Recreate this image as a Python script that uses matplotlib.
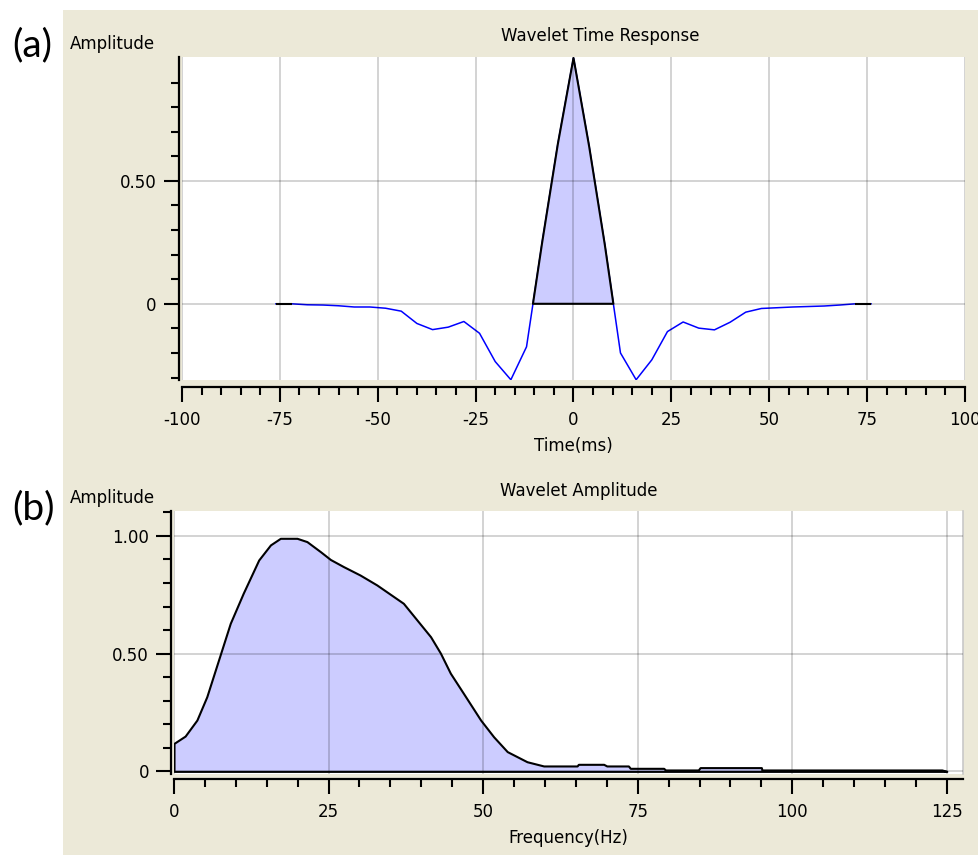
import matplotlib
matplotlib.use("Agg")
import matplotlib.pyplot as plt
from matplotlib.patches import Rectangle
from matplotlib.ticker import MultipleLocator, FixedLocator, FixedFormatter
import numpy as np

plt.rcParams['font.family'] = 'DejaVu Sans'
plt.rcParams['font.size'] = 12
plt.rcParams['axes.unicode_minus'] = False

# Wavelet time response (4 ms sampling)
time_ms = [-76, -72, -68, -64, -60, -56, -52, -48, -44, -40, -36, -32, -28, -24,
           -20, -16, -12, -8, -4, 0, 4, 8, 12, 16, 20, 24, 28, 32, 36, 40, 44,
           48, 52, 56, 60, 64, 68, 72, 76]
amp_time = [0.0, 0.0, -0.004, -0.005, -0.008, -0.013, -0.013, -0.018, -0.03,
            -0.08, -0.105, -0.095, -0.072, -0.12, -0.235, -0.309, -0.175, 0.25,
            0.65, 1.0, 0.64, 0.24, -0.2, -0.309, -0.228, -0.113, -0.074, -0.099,
            -0.106, -0.075, -0.034, -0.019, -0.016, -0.013, -0.011, -0.009,
            -0.005, 0.0, 0.0]

# Wavelet amplitude spectrum
freq_hz = [0, 1.8, 3.7, 5.3, 7.2, 9.1, 11.2, 13.7, 15.6, 17.2, 19.9, 21.5, 23.7,
           25.3, 27.4, 30.1, 32.8, 37.1, 39.3, 41.5, 43.1, 44.7, 46.8, 49.6,
           51.7, 53.9, 57.1, 59.8, 65.2, 65.4, 69.5, 70.0, 73.5, 73.8, 79.2,
           79.5, 84.8, 85.1, 95.0, 95.1, 124.2, 125.0]
amp_freq = [0.119, 0.15, 0.218, 0.317, 0.473, 0.629, 0.757, 0.898, 0.962, 0.99,
            0.99, 0.976, 0.933, 0.90, 0.87, 0.834, 0.792, 0.714, 0.643, 0.572,
            0.502, 0.417, 0.332, 0.218, 0.147, 0.084, 0.041, 0.023, 0.023, 0.03,
            0.03, 0.023, 0.023, 0.013, 0.013, 0.006, 0.006, 0.016, 0.016, 0.006,
            0.006, 0.0]

W, H = 979, 855
fig = plt.figure(figsize=(W / 100, H / 100), dpi=100)
fig.patch.set_facecolor('white')
fig.add_artist(Rectangle((63 / W, 0), 1, 1 - 10 / H, transform=fig.transFigure,
                         facecolor='#ece9d8', edgecolor='none', zorder=0))

fill_color = '#ccccff'


def style_axes(ax, left_out, bottom_out):
    for side in ['top', 'right']:
        ax.spines[side].set_visible(False)
    ax.spines['left'].set_position(('outward', left_out))
    ax.spines['bottom'].set_position(('outward', bottom_out))
    for side in ['left', 'bottom']:
        ax.spines[side].set_linewidth(1.6)
        ax.spines[side].set_color('black')
    ax.tick_params(which='major', length=11, width=1.5, pad=5, color='black')
    ax.tick_params(which='minor', length=6, width=1.5, color='black')
    ax.tick_params(axis='x', which='major', pad=6)
    ax.set_axisbelow(False)
    ax.grid(True, which='major', color='black', alpha=0.2, linewidth=1.2)


# (a) time response
ax1 = fig.add_axes([182 / W, 1 - 380 / H, (965 - 182) / W, (380 - 57) / H])
t = np.array(time_ms)
a = np.array(amp_time)
ax1.plot(t, a, color='#0000ff', linewidth=1.1, zorder=2)
ax1.fill_between(t, a, 0, where=a >= 0, interpolate=True, facecolor=fill_color,
                 edgecolor='black', linewidth=1.5, zorder=2.2)
ax1.set_xlim(-100, 100)
ax1.set_ylim(-0.31, 1.004)
ax1.xaxis.set_major_locator(MultipleLocator(25))
ax1.xaxis.set_minor_locator(MultipleLocator(5))
ax1.yaxis.set_major_locator(FixedLocator([0, 0.5]))
ax1.yaxis.set_major_formatter(FixedFormatter(['0', '0.50']))
ax1.yaxis.set_minor_locator(FixedLocator([-0.3, -0.2, -0.1, 0.1, 0.2, 0.3, 0.4,
                                          0.6, 0.7, 0.8, 0.9]))
style_axes(ax1, 2.5, 5)
ax1.set_xlabel('Time(ms)', labelpad=6)

# (b) amplitude spectrum
ax2 = fig.add_axes([174 / W, 1 - 773.5 / H, (963.5 - 174) / W, (773.5 - 511) / H])
f = np.array(freq_hz)
s = np.array(amp_freq)
ax2.fill_between(f, s, 0, facecolor=fill_color, edgecolor='black', linewidth=1.5,
                 zorder=2)
ax2.set_xlim(0, 127.7)
ax2.set_ylim(-0.009, 1.106)
ax2.xaxis.set_major_locator(MultipleLocator(25))
ax2.xaxis.set_minor_locator(MultipleLocator(5))
ax2.yaxis.set_major_locator(FixedLocator([0, 0.5, 1.0]))
ax2.yaxis.set_major_formatter(FixedFormatter(['0', '0.50', '1.00']))
ax2.yaxis.set_minor_locator(MultipleLocator(0.1))
style_axes(ax2, 2, 4)
ax2.spines['right'].set_visible(True)
ax2.spines['right'].set_color('#c8c8c8')
ax2.spines['right'].set_linewidth(1.2)
ax2.set_xlabel('Frequency(Hz)', labelpad=6)

# Panel letters, titles and axis captions
fig.text(12 / W, 1 - 45 / H, '(a)', family='Lato', fontsize=28, va='center')
fig.text(12 / W, 1 - 508 / H, '(b)', family='Lato', fontsize=28, va='center')
fig.text(70 / W, 1 - 44 / H, 'Amplitude', va='center')
fig.text(70 / W, 1 - 498 / H, 'Amplitude', va='center')
fig.text(600 / W, 1 - 36 / H, 'Wavelet Time Response', ha='center', va='center')
fig.text(579 / W, 1 - 491 / H, 'Wavelet Amplitude', ha='center', va='center')

plt.savefig('out.png', dpi=100)
